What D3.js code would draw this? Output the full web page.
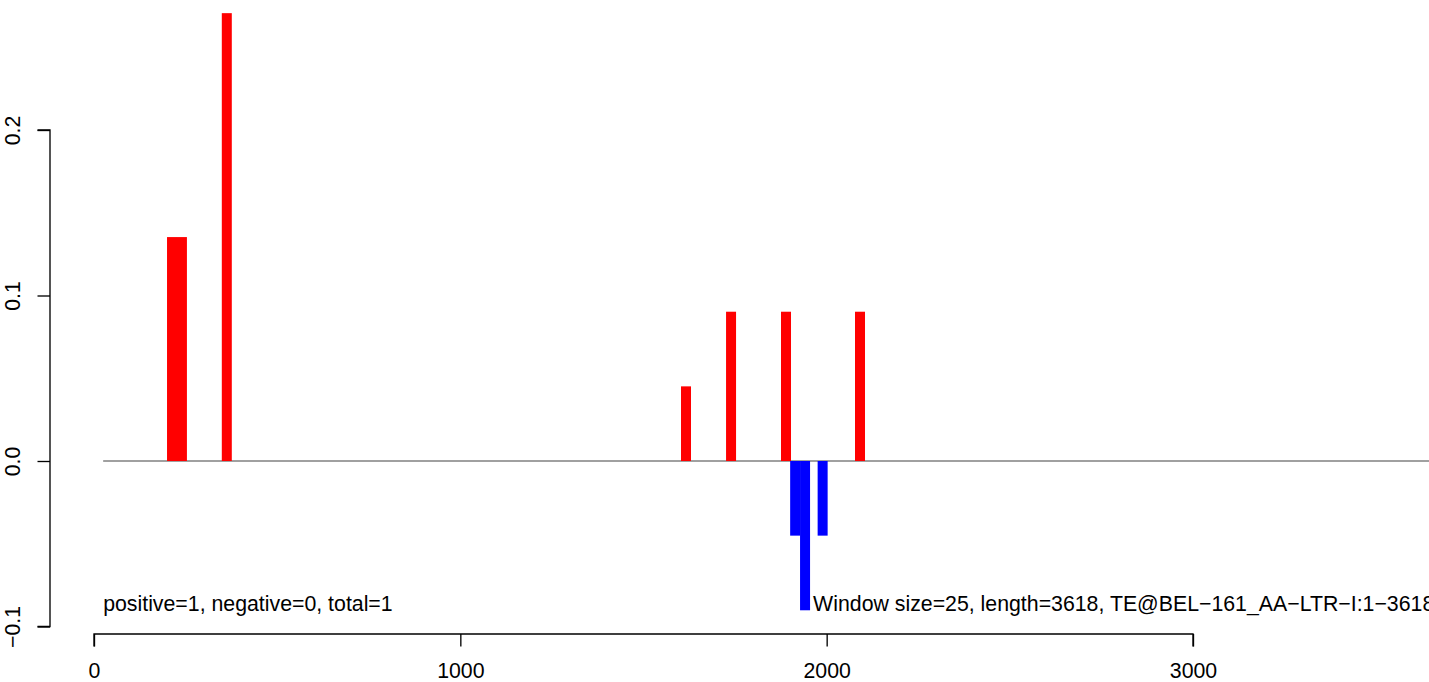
<!DOCTYPE html>
<html>
<head>
<meta charset="utf-8">
<script src="https://cdn.jsdelivr.net/npm/d3@7/dist/d3.min.js"></script>
<style>
  html, body { margin: 0; padding: 0; background: #fff; }
  svg { display: block; }
  text { font-family: "Liberation Sans", Arial, Helvetica, sans-serif; }
</style>
</head>
<body>
<div id="chart"></div>
<script>
// ---- data ----
const positivePos = [213, 240, 362.5, 1616, 1739, 1889, 2091];
const positiveVal = [0.1353, 0.1353, 0.2706, 0.0451, 0.0902, 0.0902, 0.0902];
const negativePos = [1914, 1941, 1989];
const negativeVal = [-0.0451, -0.0902, -0.0451];
const xTicks = [0, 1000, 2000, 3000];
const yTicks = [-0.1, 0.0, 0.1, 0.2];
const yTickLabels = ["\u22120.1", "0.0", "0.1", "0.2"];
const baselineExtent = [25, 3650];
const leftNote = "positive=1, negative=0, total=1";
const rightNote = "Window size=25, length=3618, TE@BEL\u2212161_AA\u2212LTR\u2212I:1\u22123618";
const noteY = -0.0906;
const leftNoteX = 25;
const rightNoteX = 1963;

// ---- layout ----
const W = 1429, H = 682;
const svg = d3.select("#chart").append("svg").attr("width", W).attr("height", H);

const x = d3.scaleLinear().domain([0, 3000]).range([94, 1193]);
const y = d3.scaleLinear().domain([-0.1, 0.2]).range([626.5, 130]);
const barW = 10;
const fs = 21.3;
const lw = 1.33;

// baseline
svg.append("line")
  .attr("x1", x(baselineExtent[0])).attr("x2", x(baselineExtent[1]))
  .attr("y1", y(0)).attr("y2", y(0))
  .attr("stroke", "#808080").attr("stroke-width", lw);

// positive bars
svg.append("g").selectAll("rect")
  .data(positivePos.map((p, i) => ({p, v: positiveVal[i]})))
  .join("rect")
  .attr("x", d => x(d.p) - barW / 2)
  .attr("width", barW)
  .attr("y", d => y(d.v))
  .attr("height", d => y(0) - y(d.v))
  .attr("fill", "#ff0000");

// negative bars
svg.append("g").selectAll("rect")
  .data(negativePos.map((p, i) => ({p, v: negativeVal[i]})))
  .join("rect")
  .attr("x", d => x(d.p) - barW / 2)
  .attr("width", barW)
  .attr("y", y(0))
  .attr("height", d => y(d.v) - y(0))
  .attr("fill", "#0000ff");

// x axis
const xAxis = d3.axisBottom(x).tickValues(xTicks).tickSize(12.5).tickPadding(16).tickFormat(d3.format("d"));
const gx = svg.append("g").attr("transform", "translate(0,634)").call(xAxis);
gx.select(".domain").attr("d", `M${x(0)},12.5V0H${x(3000)}V12.5`).attr("stroke-width", lw);
gx.selectAll(".tick line").attr("stroke-width", lw);
gx.selectAll(".tick text").attr("font-size", fs).attr("font-family", "Liberation Sans, Arial, sans-serif").attr("fill", "#000");

// y axis
const yAxis = d3.axisLeft(y).tickValues(yTicks).tickSize(12.5).tickFormat((d, i) => yTickLabels[i]);
const gy = svg.append("g").attr("transform", "translate(50,0)").call(yAxis);
gy.select(".domain").attr("d", `M-12.5,${y(-0.1)}H0V${y(0.2)}H-12.5`).attr("stroke-width", lw);
gy.selectAll(".tick line").attr("stroke-width", lw);
gy.selectAll(".tick text")
  .attr("font-size", fs).attr("font-family", "Liberation Sans, Arial, sans-serif").attr("fill", "#000")
  .attr("x", null).attr("dy", null)
  .attr("text-anchor", "middle")
  .attr("transform", "translate(-30,0) rotate(-90)");

// notes
svg.append("text").attr("x", x(leftNoteX)).attr("y", y(noteY))
  .attr("font-size", fs).attr("fill", "#000").text(leftNote);
svg.append("text").attr("x", x(rightNoteX)).attr("y", y(noteY))
  .attr("font-size", fs).attr("fill", "#000").text(rightNote);
</script>
</body>
</html>
